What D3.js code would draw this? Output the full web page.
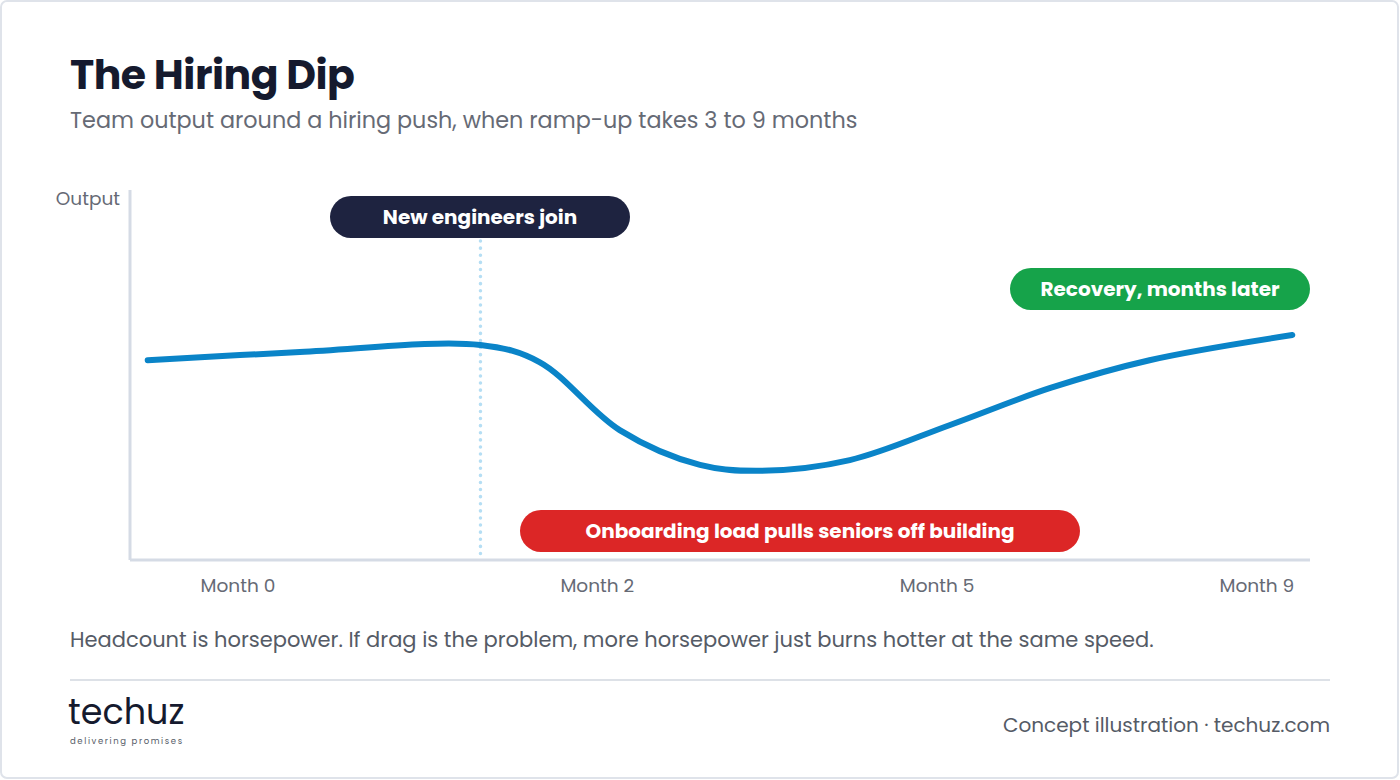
<!DOCTYPE html>
<html><head><meta charset="utf-8">
<script src="https://cdn.jsdelivr.net/npm/d3@7"></script>
<style>body{margin:0;background:#fff;font-family:"Poppins","Inter","Noto Sans",sans-serif}</style>
</head><body>
<svg id="c" width="1400" height="780"></svg>
<script>
const tickLabels = ["Month 0","Month 2","Month 5","Month 9"];
const tickPos = [9.15, 39.6, 68.4, 95.5];
const curveX = [1.5,14.4,29.7,34.7,41.5,48.3,53.4,61,69.5,78,86.4,98.5];
const curveY = [54,56.2,58.1,53.5,35.1,25.7,24.1,27,36.5,46.5,54,60.8];
const hireAt = 29.7;
const svg = d3.select("#c");
const F = '"Poppins","Inter","Noto Sans",sans-serif';
svg.append("rect").attr("x",1).attr("y",1).attr("width",1397).attr("height",777).attr("rx",6)
  .attr("fill","#fff").attr("stroke","#dfe3ea").attr("stroke-width",2);
svg.append("text").attr("x",70).attr("y",89).text("The Hiring Dip")
  .attr("font-size",41).attr("font-weight",700).attr("fill","#151a2e").attr("font-family",F).attr("letter-spacing",-0.5);
svg.append("text").attr("x",70).attr("y",128).text("Team output around a hiring push, when ramp-up takes 3 to 9 months")
  .attr("font-size",22.3).attr("fill","#666a75").attr("font-family",F);
const x = d3.scaleLinear().domain([0,100]).range([130,1310]);
const y = d3.scaleLinear().domain([0,100]).range([560,190]);
const ax = "#d5dbe5";
svg.append("line").attr("x1",x(0)).attr("x2",x(0)).attr("y1",y(100)).attr("y2",y(0)).attr("stroke",ax).attr("stroke-width",3);
svg.append("line").attr("x1",x(0)).attr("x2",x(100)).attr("y1",y(0)).attr("y2",y(0)).attr("stroke",ax).attr("stroke-width",3);
svg.append("text").attr("x",120).attr("y",205).attr("text-anchor","end").text("Output")
  .attr("font-size",18.5).attr("fill","#666a75").attr("font-family",F);
tickLabels.forEach((t,i)=>svg.append("text").attr("x",x(tickPos[i])).attr("y",592).attr("text-anchor","middle")
  .text(t).attr("font-size",18.5).attr("fill","#666a75").attr("font-family",F));
svg.append("line").attr("x1",x(hireAt)).attr("x2",x(hireAt)).attr("y1",241).attr("y2",556)
  .attr("stroke","#b5def4").attr("stroke-width",3.5).attr("stroke-dasharray","0.1,7").attr("stroke-linecap","round");
const pts = curveX.map((v,i)=>[v,curveY[i]]);
svg.append("path").attr("d",d3.line().x(d=>x(d[0])).y(d=>y(d[1])).curve(d3.curveCatmullRom.alpha(0.5))(pts))
  .attr("fill","none").attr("stroke","#0a84c8").attr("stroke-width",6).attr("stroke-linecap","round");
function pill(x0,x1,yc,col,t){
  svg.append("rect").attr("x",x0).attr("y",yc-21).attr("width",x1-x0).attr("height",42).attr("rx",21).attr("fill",col);
  svg.append("text").attr("x",(x0+x1)/2).attr("y",yc+7).attr("text-anchor","middle").text(t)
    .attr("font-size",20).attr("font-weight",700).attr("fill","#fff").attr("font-family",F);
}
pill(330,630,217,"#1e2340","New engineers join");
pill(1010,1310,289,"#16a34a","Recovery, months later");
pill(520,1080,531,"#dc2626","Onboarding load pulls seniors off building");
svg.append("text").attr("x",70).attr("y",647).text("Headcount is horsepower. If drag is the problem, more horsepower just burns hotter at the same speed.")
  .attr("font-size",21).attr("fill","#555b66").attr("font-family",F);
svg.append("line").attr("x1",70).attr("x2",1330).attr("y1",680).attr("y2",680).attr("stroke","#dde1e7").attr("stroke-width",2);
svg.append("text").attr("x",68).attr("y",724).text("techuz").attr("font-size",35).attr("fill","#151a2e").attr("font-family",F);
svg.append("text").attr("x",70).attr("y",744).text("delivering promises").attr("font-size",8.5).attr("letter-spacing",1.6).attr("fill","#555b66").attr("font-family",F);
svg.append("text").attr("x",1330).attr("y",732).attr("text-anchor","end").text("Concept illustration · techuz.com")
  .attr("font-size",20).attr("fill","#555b66").attr("font-family",F);
</script></body></html>
